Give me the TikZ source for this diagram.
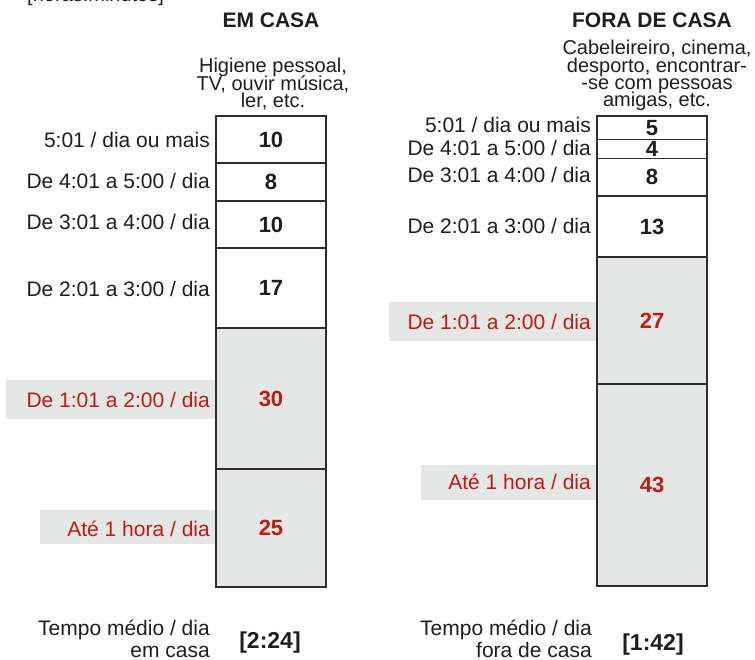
\documentclass[tikz,border=0pt]{standalone}
\usepackage{fontspec}
\setmainfont{Liberation Sans}
\definecolor{txt}{RGB}{30,30,30}
\definecolor{boxc}{RGB}{45,45,45}
\definecolor{grayc}{RGB}{229,230,230}
\definecolor{redc}{RGB}{190,28,16}
\begin{document}
\begin{tikzpicture}[x=1pt,y=-1pt,
  seg/.style={draw=boxc, line width=1.3pt, minimum width=110pt, inner sep=0pt, font=\fontsize{22}{24}\selectfont\bfseries, text=txt},
  grayseg/.style={seg, fill=grayc, text=redc},
  lab/.style={anchor=base east, inner sep=0pt, font=\fontsize{21}{24}\selectfont, text=txt},
  redlab/.style={lab, text=redc},
  labbg/.style={fill=grayc, inner sep=0pt},
  sub/.style={anchor=base, inner sep=0pt, font=\fontsize{20}{24}\selectfont, text=txt},
  head/.style={anchor=base, inner sep=0pt, font=\fontsize{21}{24}\selectfont\bfseries, text=txt},
  avg/.style={anchor=base, inner sep=0pt, font=\fontsize{23}{24}\selectfont\bfseries, text=txt}]
\clip (0,0) rectangle (755,660);
\fill[white] (0,0) rectangle (755,660);

% units note
\node[anchor=base west, inner sep=0pt, font=\fontsize{20}{24}\selectfont, text=txt] (units) at (27,1.5) {[horas:minutos]};

% headings
\node[head] (hL) at (271,28) {EM CASA};
\node[head] (hR) at (652,28) {FORA DE CASA};

% subtitles left
\node[sub] (sL1) at (273,73) {Higiene pessoal,};
\node[sub] (sL2) at (273,90.5) {TV, ouvir música,};
\node[sub] (sL3) at (273,108) {ler, etc.};
% subtitles right
\node[sub] (sR1) at (657,55) {Cabeleireiro, cinema,};
\node[sub] (sR2) at (657,72.5) {desporto, encontrar-};
\node[sub] (sR3) at (657,90) {-se com pessoas};
\node[sub] (sR4) at (657,107) {amigas, etc.};

% label backgrounds
\node[labbg, minimum width=209pt, minimum height=39pt] (bgL5) at (110.5,399.5) {};
\node[labbg, minimum width=175pt, minimum height=34pt] (bgL6) at (127.5,527) {};
\node[labbg, minimum width=208pt, minimum height=39pt] (bgR5) at (493,321.5) {};
\node[labbg, minimum width=176pt, minimum height=35pt] (bgR6) at (509,482.5) {};

% left column
\node[seg, minimum height=47pt] (L1) at (271,139.5) {10};
\node[seg, minimum height=38pt] (L2) at (271,182) {8};
\node[seg, minimum height=47pt] (L3) at (271,224.5) {10};
\node[seg, minimum height=80pt] (L4) at (271,288) {17};
\node[grayseg, minimum height=141pt] (L5) at (271,398.5) {30};
\node[grayseg, minimum height=118pt] (L6) at (271,528) {25};

% right column
\node[seg, minimum height=23.5pt] (R1) at (652,127.75) {5};
\node[seg, minimum height=18.8pt] (R2) at (652,148.9) {4};
\node[seg, minimum height=37.7pt] (R3) at (652,177.15) {8};
\node[seg, minimum height=61pt] (R4) at (652,226.5) {13};
\node[grayseg, minimum height=127pt] (R5) at (652,320.5) {27};
\node[grayseg, minimum height=202pt] (R6) at (652,485) {43};

% left labels
\node[lab] (tL1) at (210,147.5) {5:01 / dia ou mais};
\node[lab] (tL2) at (210,188.5) {De 4:01 a 5:00 / dia};
\node[lab] (tL3) at (210,229.5) {De 3:01 a 4:00 / dia};
\node[lab] (tL4) at (210,296.5) {De 2:01 a 3:00 / dia};
\node[redlab] (tL5) at (210,407.5) {De 1:01 a 2:00 / dia};
\node[redlab] (tL6) at (210,536.5) {Até 1 hora / dia};

% right labels
\node[lab] (tR1) at (591,132.5) {5:01 / dia ou mais};
\node[lab] (tR2) at (591,155.5) {De 4:01 a 5:00 / dia};
\node[lab] (tR3) at (591,182.5) {De 3:01 a 4:00 / dia};
\node[lab] (tR4) at (591,233.5) {De 2:01 a 3:00 / dia};
\node[redlab] (tR5) at (591,329.5) {De 1:01 a 2:00 / dia};
\node[redlab] (tR6) at (591,489.5) {Até 1 hora / dia};

% averages
\node[lab] (mL1) at (210,635) {Tempo médio / dia};
\node[lab] (mL2) at (210,657) {em casa};
\node[avg] (aL) at (270,648) {[2:24]};
\node[lab] (mR1) at (592,635) {Tempo médio / dia};
\node[lab] (mR2) at (592,657) {fora de casa};
\node[avg] (aR) at (653,650) {[1:42]};
\end{tikzpicture}
\end{document}
